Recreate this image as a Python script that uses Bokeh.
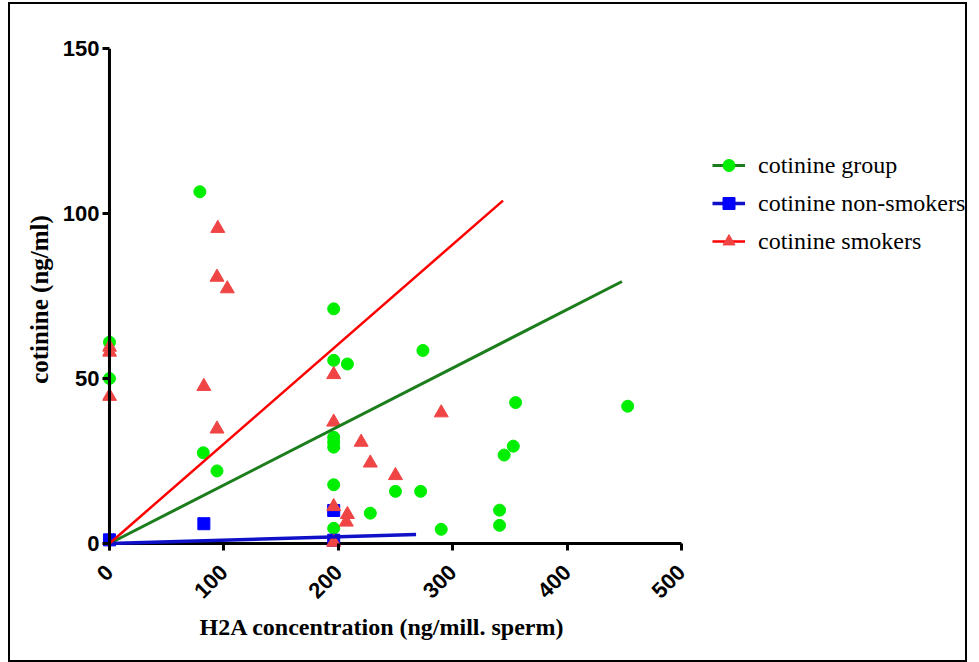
import math
from bokeh.plotting import figure
from bokeh.models import Range1d, FixedTicker, Legend, LegendItem, Span, Title
from bokeh.embed import file_html
from bokeh.resources import INLINE

# ---- data ----
group_x = [0, 0, 79, 82, 94, 196, 196, 196, 196, 196, 196, 196, 208, 228, 250, 272, 274, 290, 341, 341, 345, 353, 355, 453]
group_y = [61, 50, 106.6, 27.5, 22, 71.1, 55.5, 32.2, 30.7, 29.2, 17.8, 4.6, 54.4, 9.2, 15.8, 15.8, 58.5, 4.3, 10.1, 5.5, 26.8, 29.5, 42.7, 41.6]

nonsmokers_x = [0, 82.5, 196, 196]
nonsmokers_y = [1.1, 6, 10, 1]

smokers_x = [0, 0, 0, 82.5, 94, 94.7, 94, 103, 196, 196, 196, 196, 208, 207, 220, 228, 250, 290]
smokers_y = [59.5, 58, 44.6, 47.6, 34.7, 95.5, 80.7, 77.2, 51.2, 36.8, 11.2, 0.4, 8.8, 6.5, 30.7, 24.4, 20.6, 39.6]

fit_group_x = [0, 448]
fit_group_y = [0, 79.4]
fit_non_x = [0, 268]
fit_non_y = [0, 2.7]
fit_smokers_x = [0, 344]
fit_smokers_y = [0, 103.9]

x_ticks = [0, 100, 200, 300, 400, 500]
y_ticks = [0, 50, 100, 150]

labels = ["cotinine group", "cotinine non-smokers", "cotinine smokers"]
x_title = "H2A concentration (ng/mill. sperm)"
y_title = "cotinine (ng/ml)"

# ---- figure ----
# the frame reaches a little past 0 (markers on the axes are not clipped) and
# extends to the right so the legend can sit inside it
p = figure(width=959, height=660, output_backend="svg", toolbar_location=None,
           x_range=Range1d(-6.1, 748.3), y_range=Range1d(-2.12, 150),
           min_border_left=92, min_border_top=44, min_border_right=4, min_border_bottom=114)
p.styles = {"border": "2px solid black", "margin": "2px 0 0 8px"}
p.outline_line_color = None
p.grid.visible = False
p.background_fill_color = "white"

for ax in (p.xaxis[0], p.yaxis[0]):
    ax.axis_line_color = None
    ax.major_tick_line_width = 3
    ax.major_tick_line_color = "black"
    ax.major_tick_out = 0
    ax.major_tick_in = 7
    ax.minor_tick_line_color = None
    ax.major_label_text_font = "Liberation Sans"
    ax.major_label_text_font_style = "bold"
    ax.major_label_text_font_size = "22px"
    ax.major_label_text_color = "black"
    ax.axis_label_text_font = "Liberation Serif"
    ax.axis_label_text_font_style = "bold"
    ax.axis_label_text_font_size = "25px"
    ax.axis_label_text_color = "black"

p.xaxis[0].ticker = FixedTicker(ticks=x_ticks)
p.yaxis[0].ticker = FixedTicker(ticks=y_ticks)
p.xaxis[0].major_label_orientation = math.pi / 4
p.xaxis[0].major_label_standoff = 18
p.yaxis[0].major_label_standoff = 3
p.yaxis[0].axis_label = y_title
p.yaxis[0].axis_label_standoff = 7

p.add_layout(Title(text=x_title, align="left", offset=97, standoff=6,
                   text_font="Liberation Serif", text_font_style="bold",
                   text_font_size="24px", text_color="black"), "below")

# axis lines at the data origin
p.add_layout(Span(location=0, dimension="height", line_color="black", line_width=3))
p.segment(x0=[x_ticks[0]], y0=[y_ticks[0]], x1=[x_ticks[-1]], y1=[y_ticks[0]],
          line_color="black", line_width=3)

# points
s_group = p.scatter(group_x, group_y, marker="circle", size=12,
                    fill_color="#00EE00", line_color="#00EE00")
s_non = p.scatter(nonsmokers_x, nonsmokers_y, marker="square", size=12,
                  fill_color="#0000FF", line_color="#0000FF")
s_smk = p.scatter(smokers_x, smokers_y, marker="triangle", size=14,
                  fill_color="#F04545", line_color="#F04545")

# fit lines
l_group = p.line(fit_group_x, fit_group_y, line_color="#1B7D1B", line_width=3)
l_non = p.line(fit_non_x, fit_non_y, line_color="#1010C8", line_width=3.5)
l_smk = p.line(fit_smokers_x, fit_smokers_y, line_color="#FF0000", line_width=2.5)

legend = Legend(items=[
    LegendItem(label=labels[0], renderers=[l_group, s_group]),
    LegendItem(label=labels[1], renderers=[l_non, s_non]),
    LegendItem(label=labels[2], renderers=[l_smk, s_smk]),
], location=(610, 294))
legend.border_line_color = None
legend.background_fill_alpha = 0
legend.padding = 0
legend.margin = 0
legend.spacing = 8
legend.glyph_width = 33
legend.glyph_height = 30
legend.label_height = 30
legend.label_standoff = 13
legend.label_text_font = "Liberation Serif"
legend.label_text_font_size = "24px"
legend.label_text_color = "black"
p.add_layout(legend)

open("out.html", "w").write(file_html(p, INLINE))
